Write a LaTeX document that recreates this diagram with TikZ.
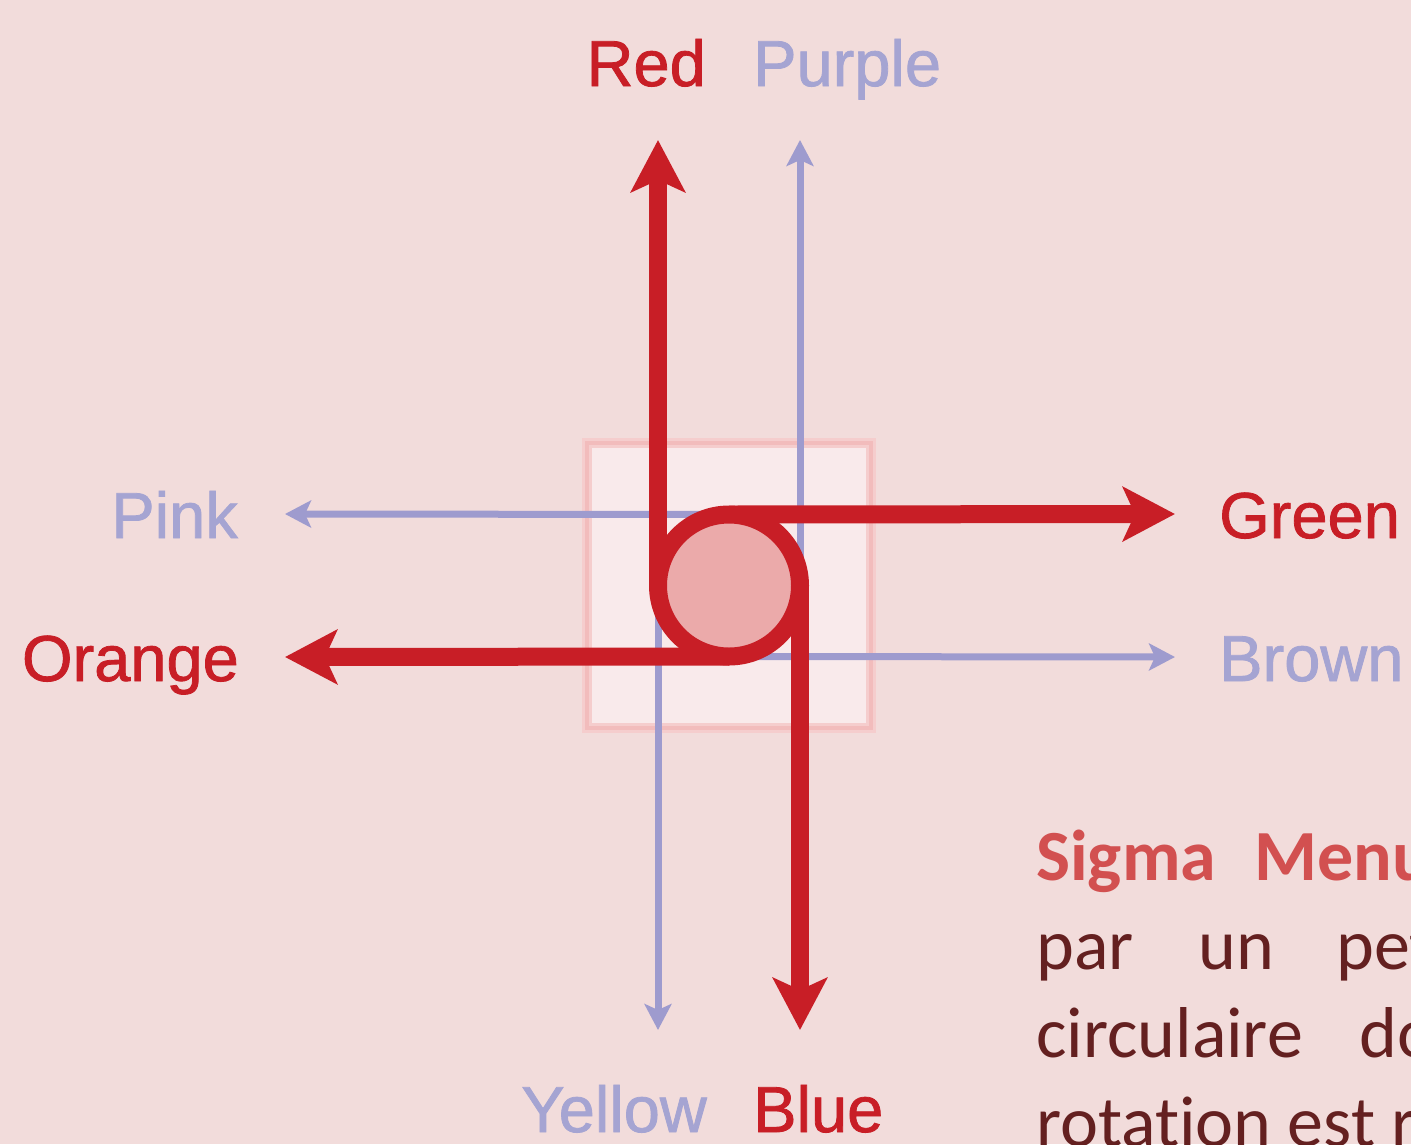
\documentclass[tikz,border=0pt]{standalone}
\usepackage{fontspec}
\setmainfont{Liberation Sans}
\newfontfamily\lblfont[RawFeature={embolden=1.2}]{Liberation Sans}
\newfontfamily\calibrifont[RawFeature={-liga;-clig;-calt;-dlig}]{Carlito}
\usetikzlibrary{arrows.meta}
\definecolor{bgpink}{RGB}{242,220,219}
\definecolor{sqfill}{RGB}{249,234,235}
\definecolor{sqedge}{RGB}{242,188,188}
\definecolor{sqglow}{RGB}{245,205,205}
\definecolor{hubfill}{RGB}{235,170,170}
\definecolor{redc}{RGB}{200,30,38}
\definecolor{bluec}{RGB}{158,155,206}
\definecolor{bluelbl}{RGB}{165,164,210}
\definecolor{titlec}{RGB}{210,80,80}
\definecolor{bodyc}{RGB}{100,32,32}
\tikzset{
  redarrow/.style={draw=redc, line width=18pt, -{Stealth[length=52pt, width=54pt, inset=12pt]}},
  bluearrow/.style={draw=bluec, line width=7pt, -{Stealth[length=26pt, width=27pt, inset=6pt]}},
  lbl/.style={inner sep=0pt, font=\lblfont\fontsize{65}{78}\selectfont},
  redlbl/.style={lbl, text=redc},
  bluelbl/.style={lbl, text=bluelbl},
  bodytxt/.style={inner sep=0pt, anchor=base west, font=\calibrifont\fontsize{72}{88}\selectfont, text=bodyc},
  titletxt/.style={bodytxt, font=\calibrifont\bfseries\fontsize{72}{88}\selectfont, text=titlec}
}
\begin{document}
\begin{tikzpicture}[x=1pt, y=-1pt]
\useasboundingbox (0,0) rectangle (1411,1144);
\fill[bgpink] (0,0) rectangle (1411,1144);
% central square
\draw[sqglow, line width=10pt, fill=sqfill] (587,443) rectangle (871,728);
\draw[sqedge, line width=4pt] (587,443) rectangle (871,728);
% hub
\node[circle, minimum size=142pt, inner sep=0pt, outer sep=0pt] (hub) at (729,585.5) {};
% tips
\coordinate (redtip) at (658,140);
\coordinate (purpletip) at (800,140);
\coordinate (greentip) at (1175,514);
\coordinate (browntip) at (1175,657);
\coordinate (bluetip) at (800,1030);
\coordinate (yellowtip) at (658,1030);
\coordinate (orangetip) at (285,657);
\coordinate (pinktip) at (285,514);
% blue arrows
\draw[bluearrow] (hub.east) -- (purpletip);
\draw[bluearrow] (hub.north) -- (pinktip);
\draw[bluearrow] (hub.south) -- (browntip);
\draw[bluearrow] (hub.west) -- (yellowtip);
% red arrows
\draw[redarrow] (hub.west) -- (redtip);
\draw[redarrow] (hub.north) -- (greentip);
\draw[redarrow] (hub.east) -- (bluetip);
\draw[redarrow] (hub.south) -- (orangetip);
% ring
\draw[redc, line width=18pt, fill=hubfill] (hub.center) circle[radius=71pt];
% labels
\node[redlbl, anchor=base east] (lred) at (706,86) {Red};
\node[bluelbl, anchor=base west] (lpurple) at (753,86) {Purple};
\node[bluelbl, anchor=base east] (lpink) at (238,538) {Pink};
\node[redlbl, anchor=base east] (lorange) at (239,681) {Orange};
\node[redlbl, anchor=base west] (lgreen) at (1219,538) {Green};
\node[bluelbl, anchor=base west] (lbrown) at (1219,681) {Brown};
\node[bluelbl, anchor=base east] (lyellow) at (707,1132) {Yellow};
\node[redlbl, anchor=base west] (lblue) at (753,1132) {Blue};
% text block
\begin{scope}
\clip (0,0) rectangle (1411,1144);
\node[titletxt] (t1a) at (1036,880) {Sigma};
\node[titletxt] (t1b) at (1254,880) {Menu};
\node[bodytxt] (t2a) at (1036,969) {par};
\node[bodytxt] (t2b) at (1198,969) {un};
\node[bodytxt] (t2c) at (1336,969) {pet};
\node[bodytxt] (t3a) at (1036,1057) {circulaire};
\node[bodytxt] (t3b) at (1359,1057) {do};
\node[bodytxt] (t4a) at (1036,1146) {rotat\kern0pt ion est r};
\end{scope}
\end{tikzpicture}
\end{document}
